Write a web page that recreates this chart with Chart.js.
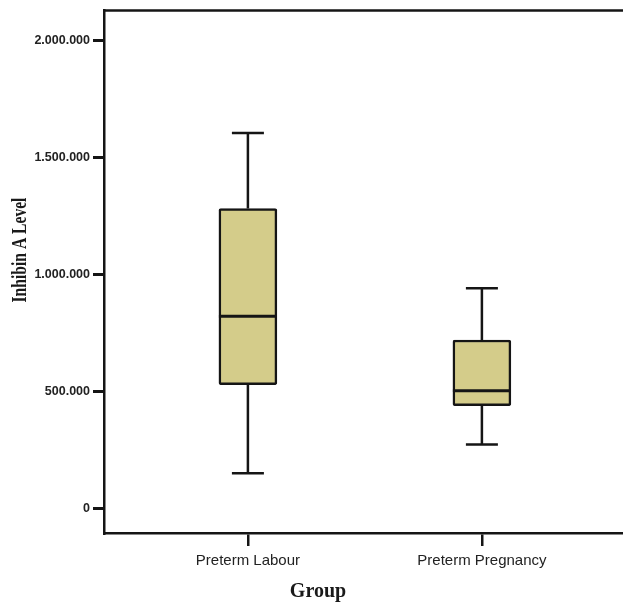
<!DOCTYPE html>
<html>
<head>
<meta charset="utf-8">
<title>Inhibin A Level by Group</title>
<script src="https://cdn.jsdelivr.net/npm/chart.js@4.4.1/dist/chart.umd.min.js"></script>
<style>
    html, body { margin: 0; padding: 0; background: #ffffff; overflow: hidden; }
    #wrap { width: 623px; height: 602px; }
</style>
</head>
<body>
<div id="wrap"><canvas id="boxChart" width="623" height="602"></canvas></div>
<script>
// box plot values (Inhibin A level)
var groups = ['Preterm Labour', 'Preterm Pregnancy'];
var groupPos = [1, 2];
var whiskerMin = [149000, 272000];
var quartile1 = [528000, 438000];
var medians = [821000, 502000];
var quartile3 = [1281000, 719000];
var whiskerMax = [1604000, 940000];

var yTicks = [0, 500000, 1000000, 1500000, 2000000];

var boxFill = '#d4cc8a';
var lineColor = '#151515';

// thousands with dots, like 1.500.000
function formatDots(v) {
    return String(Math.round(v)).replace(/\B(?=(\d{3})+(?!\d))/g, '.');
}

// whiskers, caps, medians, top frame line and axis titles
var boxExtras = {
    id: 'boxExtras',
    afterDatasetsDraw: function (chart) {
        var ctx = chart.ctx;
        var xs = chart.scales.x;
        var ys = chart.scales.y;
        var area = chart.chartArea;
        var halfBox = 29;
        var halfCap = 16;

        ctx.save();
        ctx.strokeStyle = lineColor;
        ctx.lineCap = 'butt';

        for (var i = 0; i < groupPos.length; i++) {
            var cx = xs.getPixelForValue(groupPos[i]);
            var yMin = ys.getPixelForValue(whiskerMin[i]);
            var yQ1 = ys.getPixelForValue(quartile1[i]);
            var yMed = ys.getPixelForValue(medians[i]);
            var yQ3 = ys.getPixelForValue(quartile3[i]);
            var yMax = ys.getPixelForValue(whiskerMax[i]);

            ctx.lineWidth = 2.5;
            ctx.beginPath();
            ctx.moveTo(cx, yQ3);
            ctx.lineTo(cx, yMax);
            ctx.moveTo(cx, yQ1);
            ctx.lineTo(cx, yMin);
            ctx.moveTo(cx - halfCap, yMax);
            ctx.lineTo(cx + halfCap, yMax);
            ctx.moveTo(cx - halfCap, yMin);
            ctx.lineTo(cx + halfCap, yMin);
            ctx.stroke();

            ctx.lineWidth = 3;
            ctx.beginPath();
            ctx.moveTo(cx - halfBox, yMed);
            ctx.lineTo(cx + halfBox, yMed);
            ctx.stroke();
        }

        // top frame line
        ctx.lineWidth = 2.5;
        ctx.beginPath();
        ctx.moveTo(area.left, area.top);
        ctx.lineTo(area.right, area.top);
        ctx.stroke();

        // axis titles (serif, bold, a bit condensed like the source)
        ctx.fillStyle = '#1a1a1a';
        ctx.font = 'bold 20px "Liberation Serif", "Times New Roman", serif';
        ctx.textAlign = 'center';
        ctx.textBaseline = 'alphabetic';
        ctx.fillText('Group', area.left + 214, 597);

        ctx.translate(26, 250);
        ctx.rotate(-Math.PI / 2);
        ctx.scale(0.78, 1);
        ctx.fillText('Inhibin A Level', 0, 0);
        ctx.restore();
    }
};

var boxData = [];
for (var i = 0; i < groupPos.length; i++) {
    boxData.push({ x: groupPos[i], y: [quartile1[i], quartile3[i]] });
}

var ctx = document.getElementById('boxChart').getContext('2d');

var chart = new Chart(ctx, {
    type: 'bar',
    data: {
        datasets: [{
            data: boxData,
            backgroundColor: boxFill,
            borderColor: lineColor,
            borderWidth: 2.5,
            borderSkipped: false,
            borderRadius: 2,
            barThickness: 58
        }]
    },
    options: {
        responsive: false,
        animation: false,
        devicePixelRatio: 1,
        layout: {
            padding: { top: 8, right: 0, left: 0, bottom: 0 }
        },
        plugins: {
            legend: { display: false },
            tooltip: { enabled: false }
        },
        scales: {
            x: {
                type: 'linear',
                offset: false,
                min: 0.385,
                max: 2.603,
                afterBuildTicks: function (scale) {
                    scale.ticks = groupPos.map(function (p) { return { value: p }; });
                },
                afterFit: function (scale) {
                    scale.height = 69;
                },
                ticks: {
                    padding: 6,
                    color: '#222222',
                    font: { family: '"Liberation Sans", Arial, sans-serif', size: 15 },
                    callback: function (value) {
                        return groups[groupPos.indexOf(value)];
                    }
                },
                grid: {
                    display: true,
                    offset: false,
                    drawOnChartArea: false,
                    drawTicks: true,
                    tickLength: 13,
                    lineWidth: 2.5,
                    color: lineColor
                },
                border: { display: true, width: 2.5, color: lineColor }
            },
            y: {
                min: -106000,
                max: 2128000,
                afterBuildTicks: function (scale) {
                    scale.ticks = yTicks.map(function (v) { return { value: v }; });
                },
                afterFit: function (scale) {
                    scale.width = 104;
                },
                ticks: {
                    padding: 3,
                    color: '#222222',
                    font: { family: '"Liberation Sans", Arial, sans-serif', size: 12.5, weight: 'bold' },
                    callback: function (value) {
                        return formatDots(value);
                    }
                },
                grid: {
                    display: true,
                    drawOnChartArea: false,
                    drawTicks: true,
                    tickLength: 11,
                    lineWidth: 3,
                    color: lineColor
                },
                border: { display: true, width: 2.5, color: lineColor }
            }
        }
    },
    plugins: [boxExtras]
});
</script>
</body>
</html>
